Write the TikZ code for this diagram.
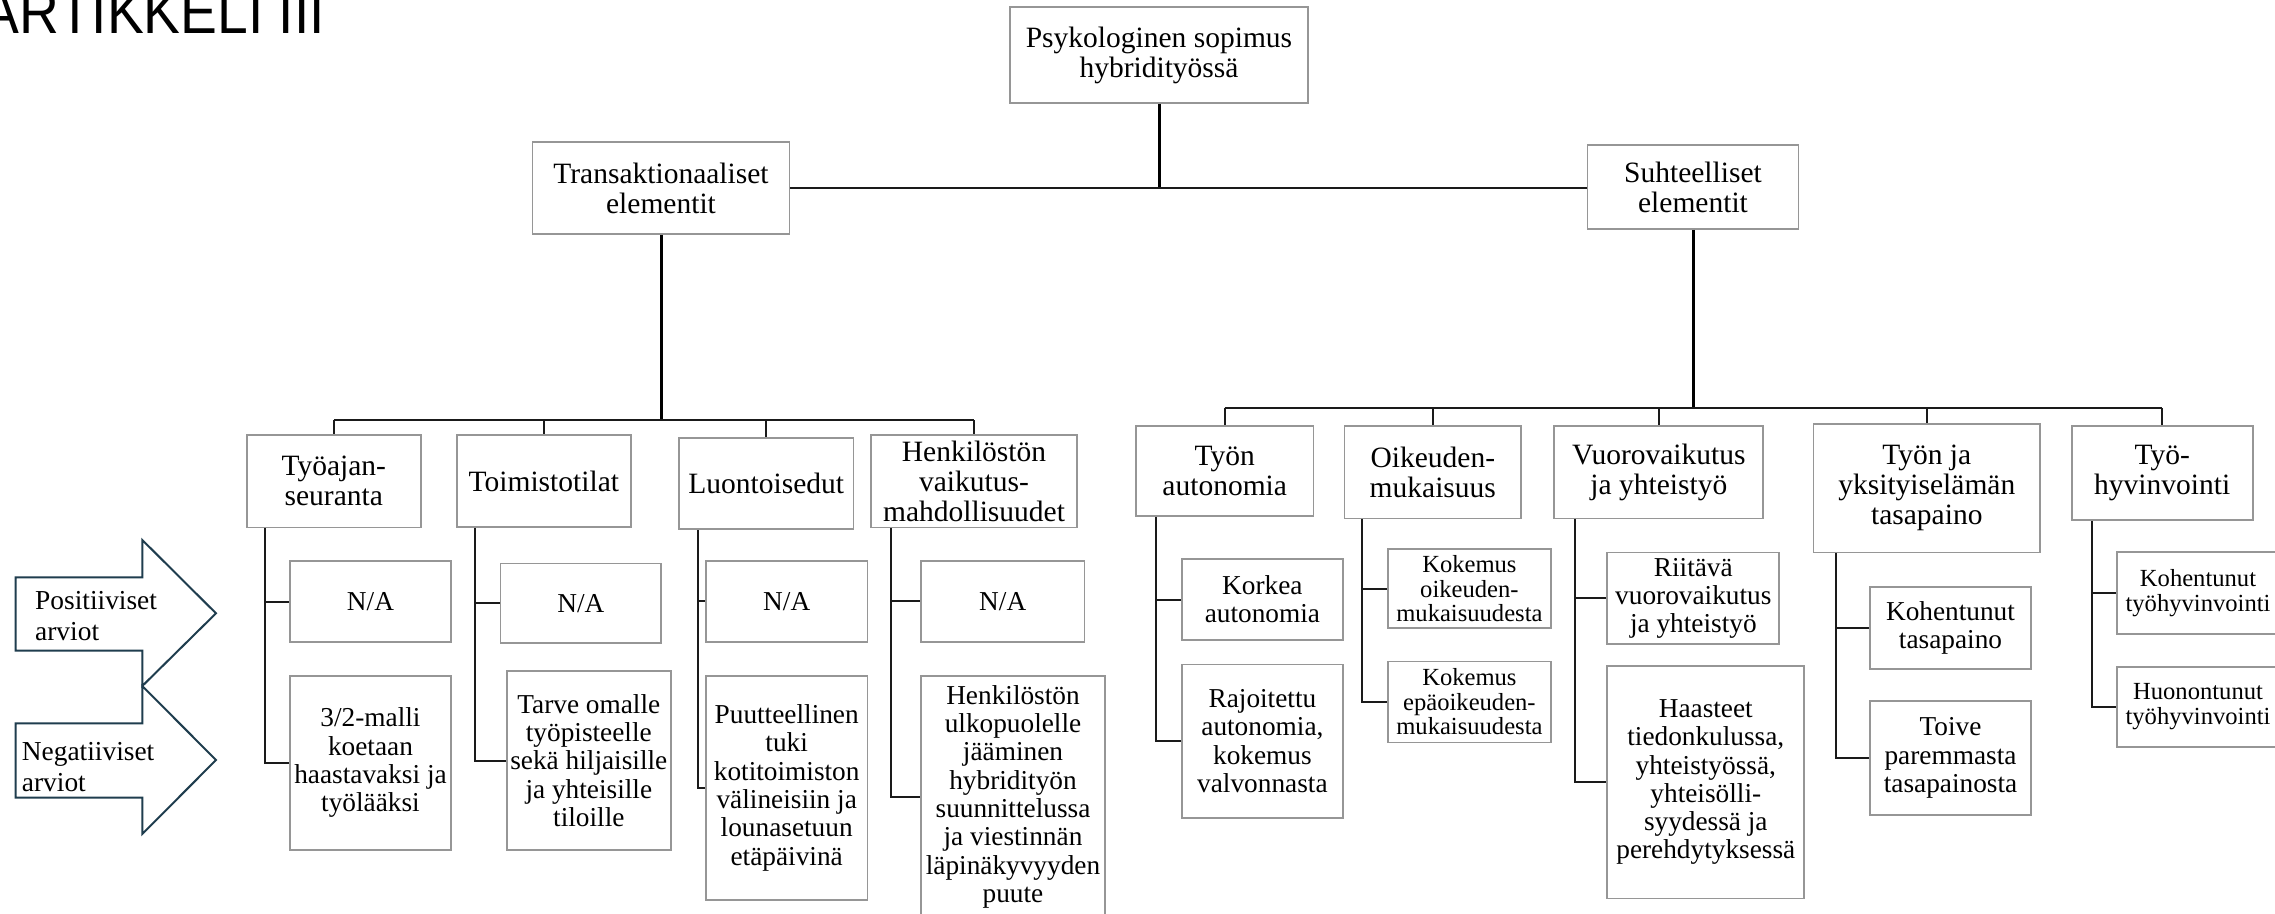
\documentclass[tikz,border=0pt]{standalone}
\usepackage{fontspec}
\setmainfont{Liberation Serif}
\newfontfamily\ttlfont{Liberation Sans}
\newcommand\hdfont{\fontsize{29.5}{30}\selectfont}
\newcommand\dtfont{\fontsize{27.3}{28.3}\selectfont}
\newcommand\smfont{\fontsize{24.6}{24.5}\selectfont}
\newcommand\arfont{\fontsize{27.4}{30.7}\selectfont}
\definecolor{boxgray}{HTML}{969696}
\definecolor{arrowcol}{HTML}{1F3D4E}
\definecolor{linecol}{HTML}{1A1A1A}
\begin{document}
\begin{tikzpicture}[x=1pt,y=-1pt,
  box/.style={draw=boxgray, line width=1.7pt, inner sep=0pt, align=center, fill=white},
  sz/.style 2 args={minimum width=#1pt, minimum height=#2pt},
  hd/.style={box, font=\hdfont},
  dt/.style={box, font=\dtfont},
  sm/.style={box, font=\smfont},
  conn/.style={draw=linecol, line width=2pt},
  trunk/.style={draw=black, line width=3pt},
  arrowshape/.style={draw=arrowcol, line width=2pt, fill=white, line join=miter},
  lbl/.style={anchor=north west, inner sep=0pt, align=left, font=\arfont}]
\fill[white] (0,0) rectangle (2275,913);
\useasboundingbox (0,0) rectangle (2275,913);

% title
\node[anchor=base east, inner sep=0pt, font=\ttlfont\fontsize{62}{62}\selectfont] (title) at (325,33) {\scalebox{0.89}[1]{ARTIKKELI III}};

% arrows
\draw[arrowshape] (15.7,577.3) -- (142.3,577.3) -- (142.3,540) -- (216,613.3) -- (142.3,686) -- (142.3,650.7) -- (15.7,650.7) -- cycle;
\draw[arrowshape] (15.7,723.3) -- (142.3,723.3) -- (142.3,686) -- (216,760) -- (142.3,834) -- (142.3,797.7) -- (15.7,797.7) -- cycle;
\node[lbl] (pos) at (35,591.3) {Positiiviset\\arviot};
\node[lbl] (neg) at (21.7,742.3) {Negatiiviset\\arviot};

% top levels
\node[hd, sz={298}{96}] (top) at (1159,55) {Psykologinen sopimus\\hybridityössä};
\node[hd, sz={257}{92}] (tr) at (661,188) {Transaktionaaliset\\elementit};
\node[hd, sz={211}{84}] (su) at (1693,187) {Suhteelliset\\elementit};

% left level 2
\node[hd, sz={174.3}{92.3}] (b1) at (333.8,481.2) {Työajan-\\seuranta};
\node[hd, sz={174.3}{92}] (b2) at (543.8,481) {Toimistotilat};
\node[hd, sz={174.3}{91.6}] (b3) at (766.2,483.5) {Luontoisedut};
\node[hd, sz={206.6}{92.3}] (b4) at (974,481.2) {Henkilöstön\\vaikutus-\\mahdollisuudet};

% left details
\node[dt, sz={161}{80.4}] (d11) at (370.5,601.5) {N/A};
\node[dt, sz={161}{174.3}] (d12) at (370.5,762.8) {3/2-malli\\koetaan\\haastavaksi ja\\työlääksi};
\node[dt, sz={160.4}{79.5}] (d21) at (580.8,603.3) {N/A};
\node[dt, sz={163.7}{179}] (d22) at (588.8,760.5) {Tarve omalle\\työpisteelle\\sekä hiljaisille\\ja yhteisille\\tiloille};
\node[dt, sz={161.3}{80.7}] (d31) at (786.7,601.3) {N/A};
\node[dt, sz={161.3}{224.3}] (d32) at (786.7,787.8) {Puutteellinen\\tuki\\kotitoimiston\\välineisiin ja\\lounasetuun\\etäpäivinä};
\node[dt, sz={163.3}{80.7}] (d41) at (1002.7,601.3) {N/A};
\node[dt, sz={184}{242.3}] (d42) at (1013,796.8) {Henkilöstön\\ulkopuolelle\\jääminen\\hybridityön\\suunnittelussa\\ja viestinnän\\läpinäkyvyyden\\puute};

% right level 2
\node[hd, sz={177.3}{90}] (r1) at (1224.7,471) {Työn\\autonomia};
\node[hd, sz={176.4}{92.3}] (r2) at (1432.8,472.2) {Oikeuden-\\mukaisuus};
\node[hd, sz={209}{92.3}] (r3) at (1658.8,472.2) {Vuorovaikutus\\ja yhteistyö};
\node[hd, sz={226.5}{128.3}] (r4) at (1926.8,488.2) {Työn ja\\yksityiselämän\\tasapaino};
\node[hd, sz={181}{94}] (r5) at (2162.2,473) {Työ-\\hyvinvointi};

% right details
\node[dt, sz={160.7}{81}] (e11) at (1262.4,599.5) {Korkea\\autonomia};
\node[dt, sz={160.7}{153.3}] (e12) at (1262.4,741.2) {Rajoitettu\\autonomia,\\kokemus\\valvonnasta};
\node[sm, sz={162.7}{79}] (e21) at (1469.4,588.8) {Kokemus\\oikeuden-\\mukaisuudesta};
\node[sm, sz={162.7}{81}] (e22) at (1469.4,702) {Kokemus\\epäoikeuden-\\mukaisuudesta};
\node[dt, sz={172}{91.7}] (e31) at (1693.3,598.2) {Riitävä\\vuorovaikutus\\ja yhteistyö};
\node[dt, sz={197}{232.3}] (e32) at (1705.8,782.2) {Haasteet\\tiedonkulussa,\\yhteistyössä,\\yhteisölli-\\syydessä ja\\perehdytyksessä};
\node[dt, sz={161}{82.6}] (e41) at (1950.5,628) {Kohentunut\\tasapaino};
\node[dt, sz={161}{114}] (e42) at (1950.5,758) {Toive\\paremmasta\\tasapainosta};
\node[sm, sz={161.4}{82}] (e51) at (2198,593.3) {Kohentunut\\työhyvinvointi};
\node[sm, sz={161.4}{80}] (e52) at (2198,706.7) {Huonontunut\\työhyvinvointi};

% top connectors
\draw[trunk] (top.south) -- (top.south |- tr.east);
\draw[conn] (tr.east) -- (tr.east -| su.west);

% left bus
\coordinate (busL) at (661,420);
\draw[trunk] (tr.south) -- (busL);
\draw[conn] (b1.north |- busL) -- (b4.north |- busL);
\foreach \n in {b1,b2,b3,b4} \draw[conn] (\n.north |- busL) -- (\n.north);

% right bus
\coordinate (busR) at (1693,408.3);
\draw[trunk] (su.south) -- (busR);
\draw[conn] (r1.north |- busR) -- (r5.north |- busR);
\foreach \n in {r1,r2,r3,r4,r5} \draw[conn] (\n.north |- busR) -- (\n.north);

% branch verticals
\coordinate (v1) at ([xshift=19pt]b1.south west);
\coordinate (v2) at ([xshift=19pt]b2.south west);
\coordinate (v3) at ([xshift=19.3pt]b3.south west);
\coordinate (v4) at ([xshift=21pt]b4.south west);
\coordinate (w1) at ([xshift=21pt]r1.south west);
\coordinate (w2) at ([xshift=18.4pt]r2.south west);
\coordinate (w3) at ([xshift=21.7pt]r3.south west);
\coordinate (w4) at ([xshift=23.2pt]r4.south west);
\coordinate (w5) at ([xshift=21pt]r5.south west);

\foreach \v/\a/\b in {v1/d11/d12, v2/d21/d22, v3/d31/d32, v4/d41/d42,
                      w1/e11/e12, w2/e21/e22, w3/e31/e32, w4/e41/e42, w5/e51/e52}{
  \draw[conn] (\v) |- (\b.west);
  \draw[conn] (\v |- \a.west) -- (\a.west);
}
\end{tikzpicture}
\end{document}
